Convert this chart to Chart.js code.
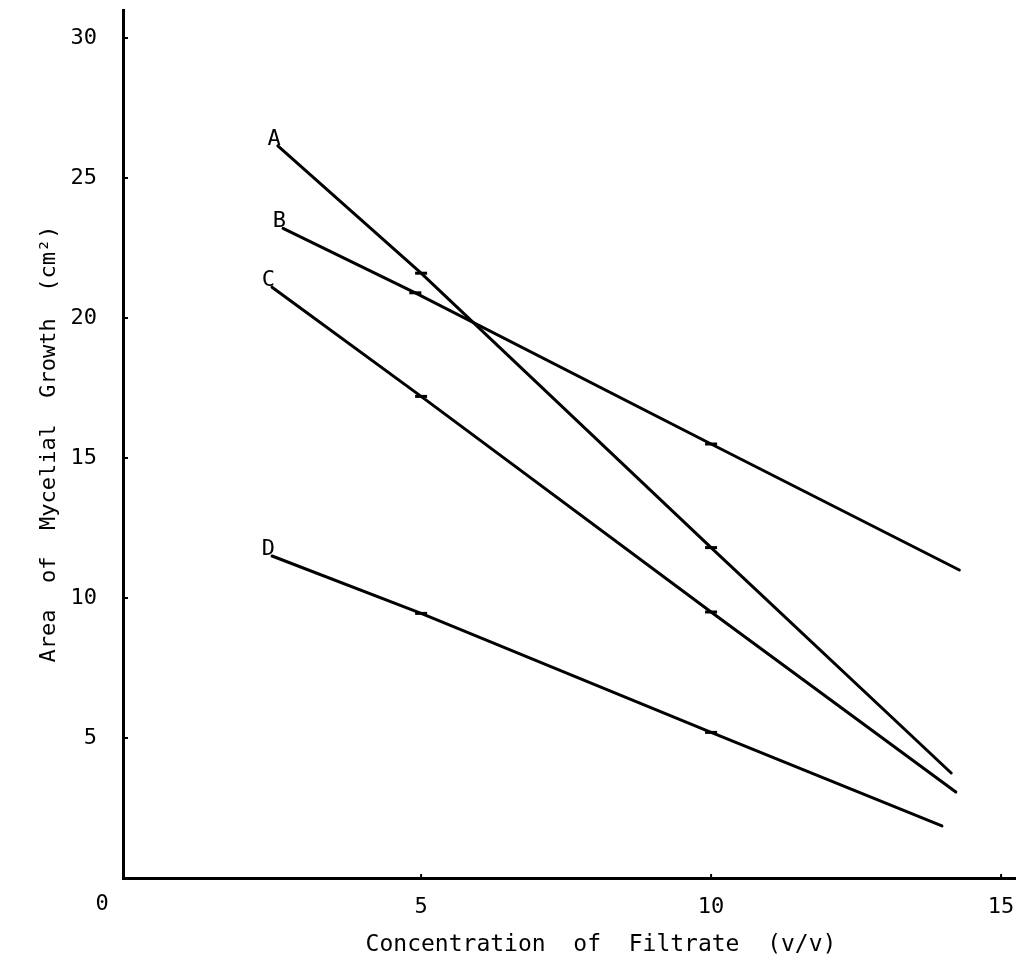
<!DOCTYPE html>
<html lang="en">
<head>
    <meta charset="UTF-8">
    <title>Area of Mycelial Growth vs Concentration of Filtrate</title>
    <script src="https://cdn.jsdelivr.net/npm/chart.js"></script>
    <style>
        html, body { margin: 0; padding: 0; background: #fff; }
        #chart-container { width: 1022px; height: 968px; }
    </style>
</head>
<body>
    <div id="chart-container">
        <canvas id="myChart"></canvas>
    </div>

    <script>
        // values
        const seriesNames = ['A', 'B', 'C', 'D'];
        const concA = [2.53, 5, 10, 14.14];
        const areaA = [26.15, 21.6, 11.8, 3.75];
        const concB = [2.62, 4.9, 10, 14.28];
        const areaB = [23.2, 20.9, 15.5, 11.0];
        const concC = [2.43, 5, 10, 14.22];
        const areaC = [21.1, 17.2, 9.5, 3.07];
        const concD = [2.43, 5, 10, 13.98];
        const areaD = [11.5, 9.45, 5.2, 1.86];
        const xTicks = [5, 10, 15];
        const yTicks = [5, 10, 15, 20, 25, 30];

        const FONT = "'DejaVu Sans Mono', monospace";
        const INK = '#000';

        function toPoints(xs, ys) {
            return xs.map((x, i) => ({ x: x, y: ys[i] }));
        }

        const allConc = [concA, concB, concC, concD];
        const allArea = [areaA, areaB, areaC, areaD];

        const datasets = seriesNames.map((name, i) => ({
            label: name,
            data: toPoints(allConc[i], allArea[i]),
            showLine: true,
            borderColor: INK,
            backgroundColor: INK,
            borderWidth: 3,
            borderCapStyle: 'round',
            pointStyle: 'line',
            pointRadius: [0, 6, 6, 0],
            pointBorderWidth: 3,
            pointBorderColor: INK,
            tension: 0
        }));

        // series letters, inward tick marks, origin "0" and x title
        const decorations = {
            id: 'decorations',
            afterDraw(chart) {
                const ctx = chart.ctx;
                const area = chart.chartArea;
                const xs = chart.scales.x;
                const ys = chart.scales.y;
                ctx.save();
                ctx.fillStyle = INK;
                ctx.strokeStyle = INK;

                // letters at the start of each line
                ctx.font = '22px ' + FONT;
                ctx.textAlign = 'right';
                ctx.textBaseline = 'bottom';
                chart.data.datasets.forEach((ds, i) => {
                    const p = chart.getDatasetMeta(i).data[0];
                    ctx.fillText(ds.label, p.x + 3, p.y + 4);
                });

                // small ticks pointing into the plot
                ctx.lineWidth = 2;
                yTicks.forEach(v => {
                    const py = ys.getPixelForValue(v);
                    ctx.beginPath();
                    ctx.moveTo(area.left, py);
                    ctx.lineTo(area.left + 5, py);
                    ctx.stroke();
                });
                xTicks.forEach(v => {
                    const px = xs.getPixelForValue(v);
                    ctx.beginPath();
                    ctx.moveTo(px, area.bottom);
                    ctx.lineTo(px, area.bottom - 4);
                    ctx.stroke();
                });

                // shared origin label
                ctx.font = '22px ' + FONT;
                ctx.textAlign = 'center';
                ctx.textBaseline = 'middle';
                ctx.fillText('0', area.left - 21, area.bottom + 26);

                // x axis title
                ctx.font = '23px ' + FONT;
                ctx.textBaseline = 'middle';
                ctx.fillText('Concentration  of  Filtrate  (v/v)', (area.left + area.right) / 2 + 32, area.bottom + 67);
                ctx.restore();
            }
        };

        const ctx = document.getElementById('myChart').getContext('2d');
        const myChart = new Chart(ctx, {
            type: 'scatter',
            data: { datasets: datasets },
            options: {
                responsive: true,
                maintainAspectRatio: false,
                animation: false,
                layout: { padding: { top: 10, right: 7, left: 0, bottom: 0 } },
                plugins: {
                    legend: { display: false },
                    tooltip: { enabled: false }
                },
                scales: {
                    x: {
                        type: 'linear',
                        min: -0.14,
                        max: 15.24,
                        afterBuildTicks: s => { s.ticks = xTicks.map(v => ({ value: v })); },
                        afterFit: s => {
                            s.height = 90;
                            s.paddingLeft = 0;
                            s.paddingRight = 0;
                        },
                        grid: { display: false, drawTicks: false },
                        border: { display: true, color: INK, width: 3 },
                        ticks: {
                            padding: 16,
                            color: INK,
                            maxRotation: 0,
                            font: { family: FONT, size: 22 }
                        }
                    },
                    y: {
                        type: 'linear',
                        min: 0,
                        max: 31,
                        afterBuildTicks: s => { s.ticks = yTicks.map(v => ({ value: v })); },
                        afterFit: s => {
                            s.width = 123;
                            s.paddingTop = 0;
                            s.paddingBottom = 0;
                        },
                        grid: { display: false, drawTicks: false },
                        border: { display: true, color: INK, width: 3 },
                        ticks: {
                            padding: 26,
                            color: INK,
                            font: { family: FONT, size: 22 }
                        },
                        title: {
                            display: true,
                            text: 'Area  of  Mycelial  Growth  (cm²)',
                            color: INK,
                            font: { family: FONT, size: 22 },
                            padding: { top: 36, bottom: 0 }
                        }
                    }
                }
            },
            plugins: [decorations]
        });
    </script>
</body>
</html>
